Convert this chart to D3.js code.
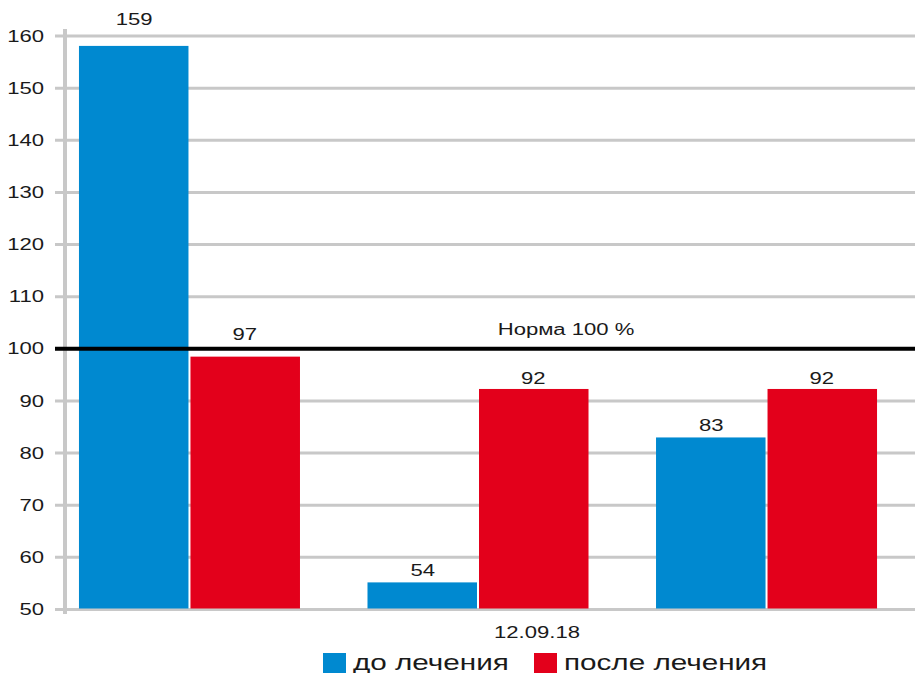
<!doctype html>
<html lang="ru">
<head>
<meta charset="utf-8">
<title>Норма 100 %</title>
<style>
  body { margin: 0; background: #fff; }
  text { font-family: "Liberation Sans", Arial, sans-serif; fill: #1a1a1a; }
</style>
</head>
<body>
<svg id="chart" width="915" height="673"></svg>

<script src="https://d3js.org/d3.v7.min.js"></script>
<script>
// data
const groups = ['g1', 'g2', 'g3'];
const seriesNames = ['до лечения', 'после лечения'];
const before = [158.1, 55.2, 83.0];
const after = [98.5, 92.3, 92.3];
const beforeLabels = ['159', '54', '83'];
const afterLabels = ['97', '92', '92'];
const yTicks = [50, 60, 70, 80, 90, 100, 110, 120, 130, 140, 150, 160];
const normValue = 100;
const normLabel = 'Норма 100 %';
const dateLabel = '12.09.18';

const colors = ['#0089d0', '#e3001b'];
// the picture is stretched sideways, so text gets the same stretch
const stretch = 1.38;
// how far each value label sits above its bar
const labelLift = [[21, 17], [6, 5], [6, 5]];

const svg = d3.select('#chart');

const y = d3.scaleLinear().domain([50, 160]).range([609.5, 36]);
const x = d3.scaleBand().domain(groups).range([68, 888])
  .paddingInner(0.234).paddingOuter(0.038);
const xs = d3.scaleBand().domain([0, 1]).range([0, x.bandwidth()]);

function label(g, tx, ty, str, size, anchor) {
  return g.append('text')
    .attr('transform', `translate(${tx},${ty}) scale(${stretch},1)`)
    .attr('text-anchor', anchor || 'middle')
    .attr('font-size', size)
    .text(str);
}

// grid lines
svg.append('g').selectAll('line').data(yTicks).join('line')
  .attr('x1', 55).attr('x2', 915)
  .attr('y1', d => y(d)).attr('y2', d => y(d))
  .attr('stroke', '#c8c8c8').attr('stroke-width', 3);

// y axis line
svg.append('line')
  .attr('x1', 65).attr('x2', 65).attr('y1', 29).attr('y2', 614)
  .attr('stroke', '#c8c8c8').attr('stroke-width', 4);

// tick labels
const tickG = svg.append('g');
yTicks.forEach(t => {
  label(tickG, 44, y(t) + 5.6, t, 16, 'end');
});

// bars
const rows = groups.map((g, i) => ({ g, i, vals: [before[i], after[i]], labs: [beforeLabels[i], afterLabels[i]] }));
const barG = svg.append('g');
rows.forEach(r => {
  r.vals.forEach((v, s) => {
    const bx = x(r.g) + xs(s);
    barG.append('rect')
      .attr('x', bx + (s === 1 ? 1 : 0))
      .attr('y', y(v))
      .attr('width', xs.bandwidth() - 1)
      .attr('height', y(50) - 1 - y(v))
      .attr('fill', colors[s]);
    label(barG, bx + xs.bandwidth() / 2, y(v) - labelLift[r.i][s], r.labs[s], 16);
  });
});

// norm line
svg.append('line')
  .attr('x1', 55).attr('x2', 915)
  .attr('y1', y(normValue)).attr('y2', y(normValue))
  .attr('stroke', '#000').attr('stroke-width', 4);
label(svg, 566, y(normValue) - 14, normLabel, 16);

// category label
label(svg, 537, 638, dateLabel, 16);

// legend
const legX = [323, 534];
const leg = svg.append('g');
seriesNames.forEach((n, s) => {
  leg.append('rect')
    .attr('x', legX[s]).attr('y', 653)
    .attr('width', 23).attr('height', 20)
    .attr('fill', colors[s]);
  label(leg, legX[s] + 30, 670, n, 21.5, 'start');
});
</script>
</body>
</html>
